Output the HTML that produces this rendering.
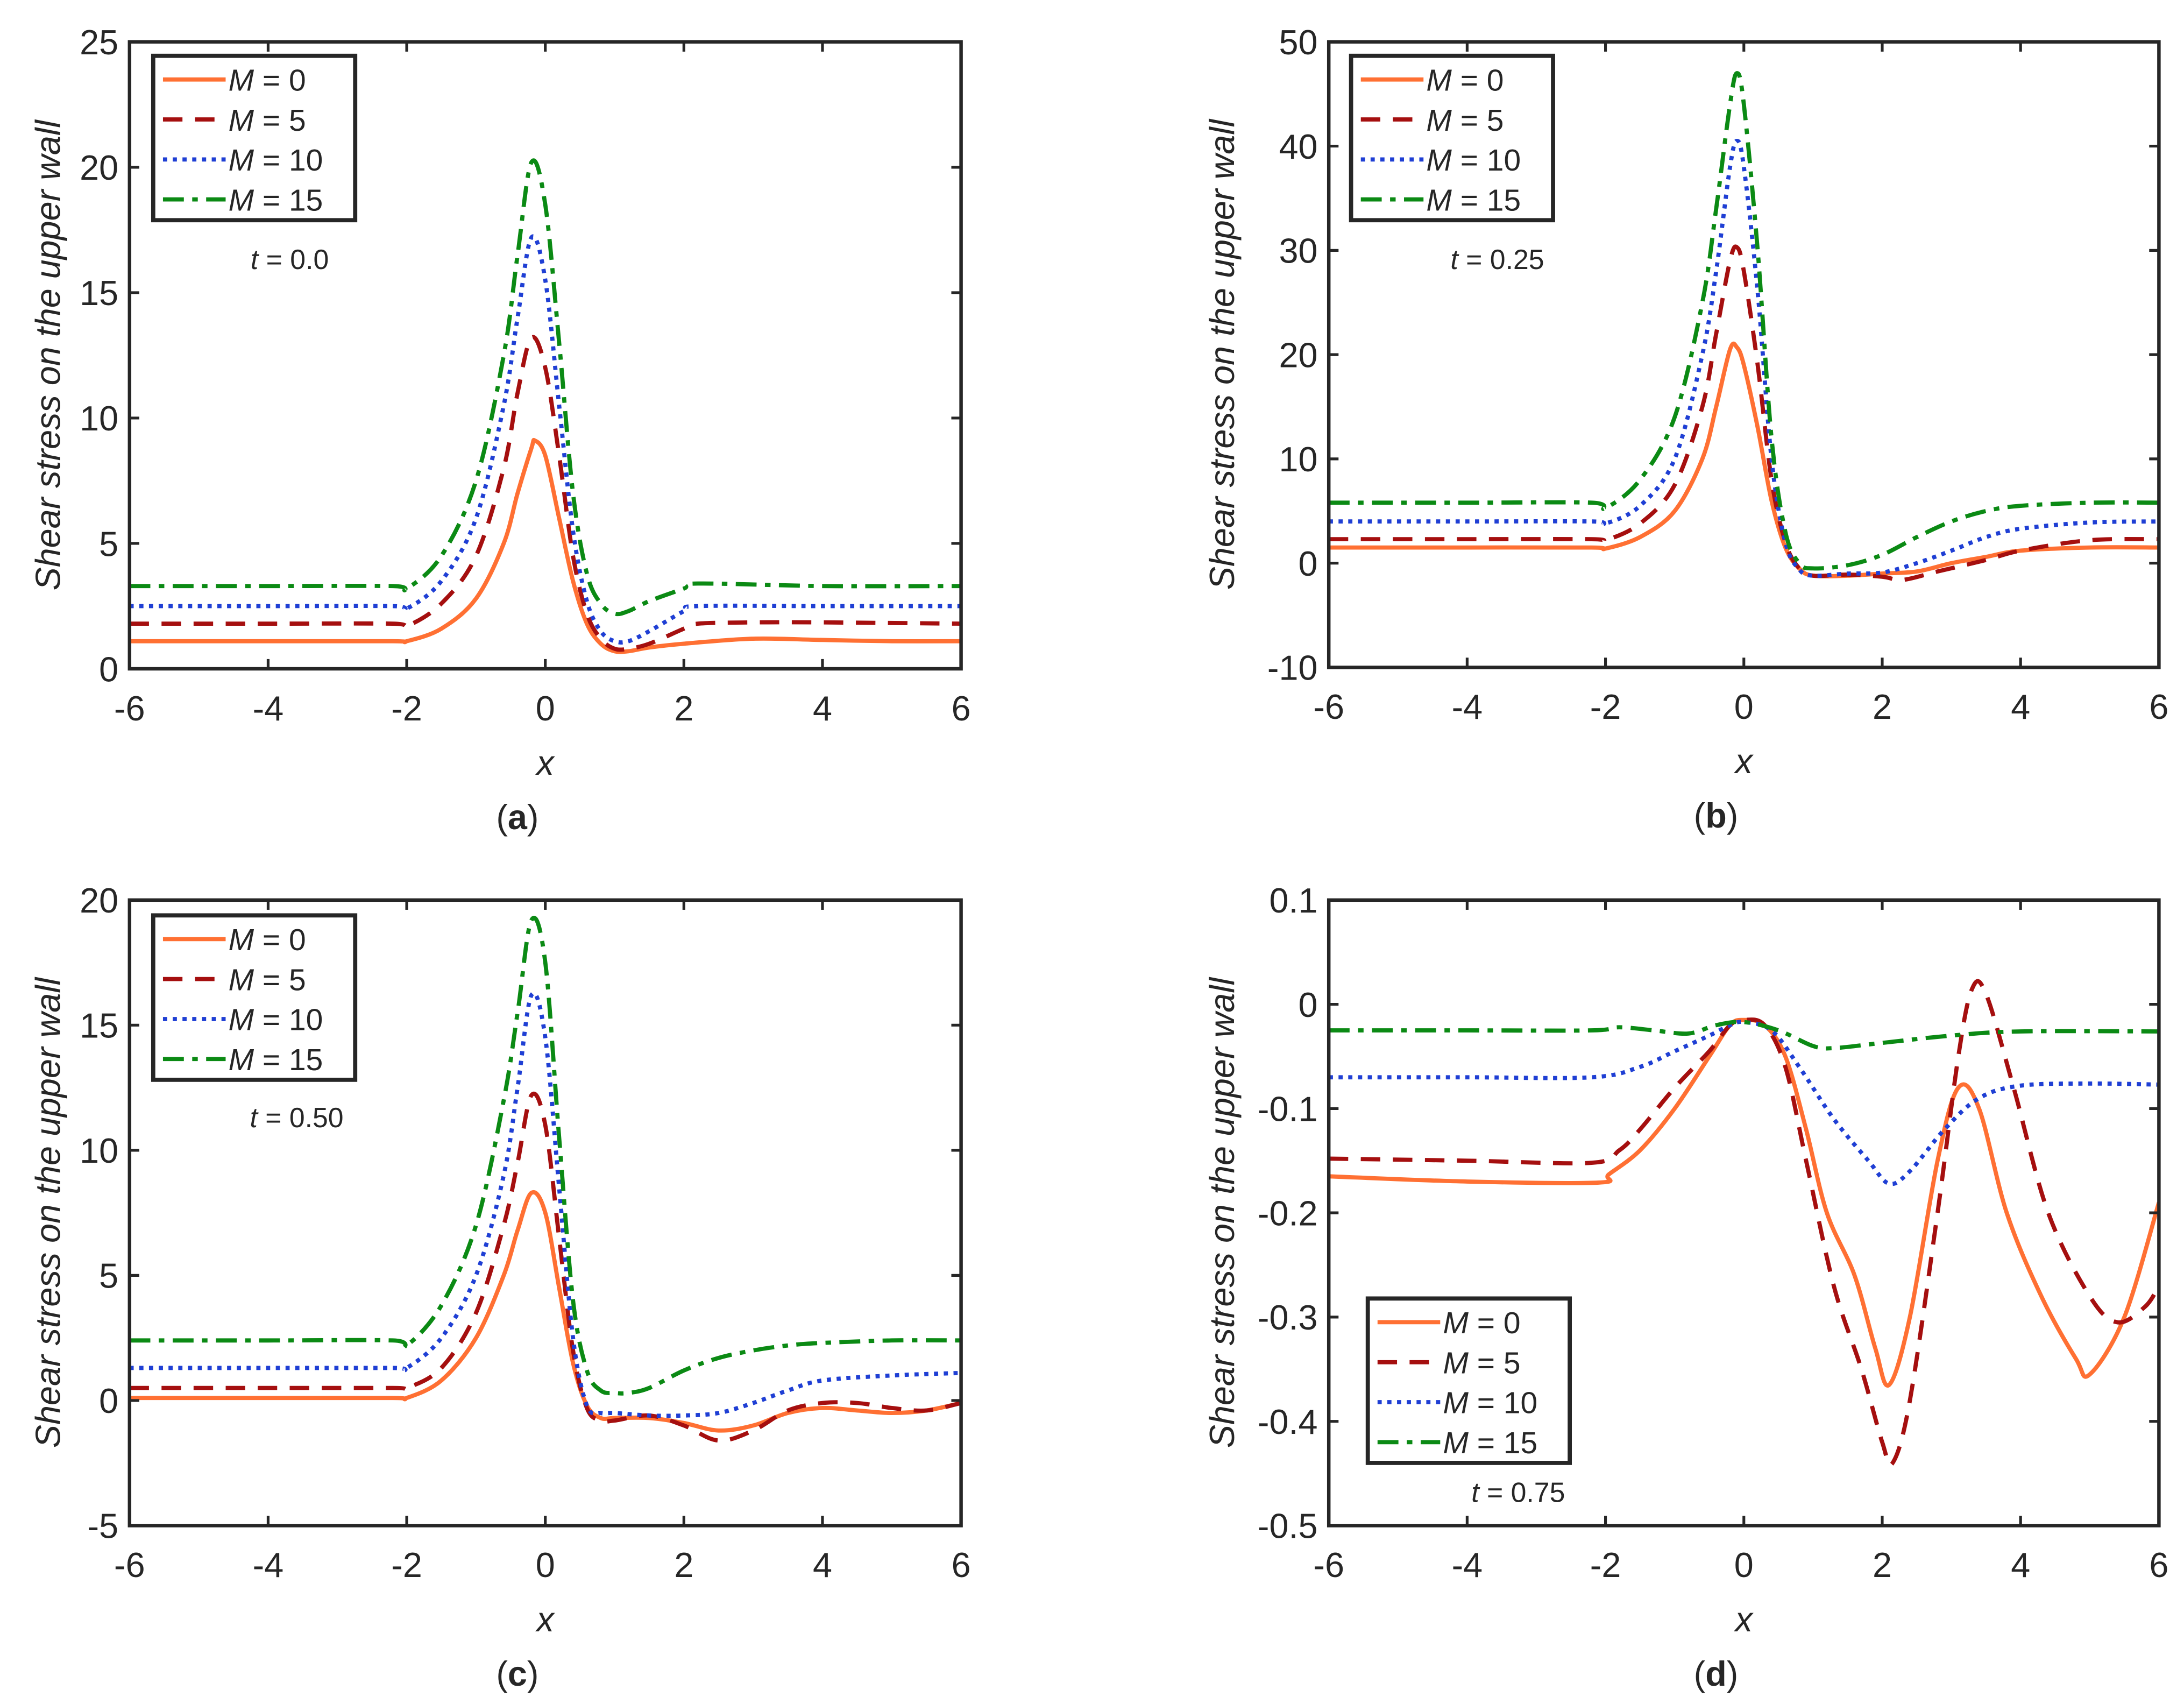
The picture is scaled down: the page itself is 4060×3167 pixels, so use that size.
<!DOCTYPE html>
<html><head><meta charset="utf-8"><style>
html,body{margin:0;padding:0;background:#fff;}
svg{display:block;}
text{font-family:"Liberation Sans",sans-serif;fill:#262626;}
</style></head><body>
<svg id="fig" width="4060" height="3167" viewBox="0 0 1568 1223" xmlns="http://www.w3.org/2000/svg"></svg>
<script>
const seriesNames = ["M = 0","M = 5","M = 10","M = 15"];
const tLabels = ["0.0","0.25","0.50","0.75"];
const captions = ["(a)","(b)","(c)","(d)"];
const xTicks = [-6,-4,-2,0,2,4,6];
const yTicksA = [0,5,10,15,20,25];
const yTicksB = [-10,0,10,20,30,40,50];
const yTicksC = [-5,0,5,10,15,20];
const yTicksD = [-0.5,-0.4,-0.3,-0.2,-0.1,0,0.1];
const yTickLabelsD = ["-0.5","-0.4","-0.3","-0.2","-0.1","0","0.1"];

// panel a
const aX0 = [-6,-4,-2.2,-2,-1.5,-1,-0.6,-0.4,-0.2,-0.15,0,0.2,0.4,0.6,0.8,1,1.2,1.5,2,3,4,5,6];
const aY0 = [1.1,1.1,1.1,1.1,1.6,2.8,5,7,8.8,9.1,8.5,6,3.5,1.8,1.0,0.7,0.7,0.85,1.0,1.2,1.15,1.1,1.1];
const aX5 = [-6,-4,-2.2,-2,-1.5,-1,-0.6,-0.4,-0.2,0,0.2,0.4,0.6,0.8,1,1.2,1.5,2,2.2,3,4,6];
const aY5 = [1.8,1.8,1.8,1.7,2.6,4.5,8,11,13.2,12,8.5,4.5,2.2,1.2,0.8,0.8,1.0,1.6,1.8,1.85,1.85,1.8];
const aX10 = [-6,-4,-2.2,-2,-1.5,-1,-0.6,-0.4,-0.2,0,0.2,0.4,0.6,0.8,1,1.2,1.5,2,2.2,4,6];
const aY10 = [2.5,2.5,2.5,2.4,3.5,6,10.5,14,17.2,15.5,10.5,5.5,2.7,1.5,1.1,1.1,1.5,2.3,2.5,2.5,2.5];
const aX15 = [-6,-4,-2.2,-2,-1.5,-1,-0.6,-0.4,-0.2,0,0.2,0.4,0.6,0.8,1,1.2,1.5,2,2.2,4,6];
const aY15 = [3.3,3.3,3.3,3.2,4.5,7.5,12.5,16.5,20.2,18.5,13,7,3.8,2.6,2.2,2.3,2.7,3.2,3.4,3.3,3.3];
// panel b
const bX0 = [-6,-4,-2.2,-2,-1.5,-1,-0.6,-0.4,-0.2,-0.1,0,0.2,0.4,0.6,0.8,1,1.5,2,2.5,3,3.5,4,5,6];
const bY0 = [1.5,1.5,1.5,1.4,2.5,5,10,15,20.5,20.7,19,13,6,1.5,-0.5,-1.2,-1.2,-1.0,-0.8,0,0.6,1.2,1.5,1.5];
const bX5 = [-6,-4,-2.2,-2,-1.5,-1,-0.6,-0.4,-0.2,-0.1,0,0.2,0.4,0.6,0.8,1,1.5,2,2.3,2.8,3.5,4,5,6];
const bY5 = [2.3,2.3,2.3,2.2,3.8,7.5,15,22,29,30.3,28,19,8,2,-0.5,-1.2,-1.1,-1.3,-1.6,-0.8,0.3,1.2,2.2,2.3];
const bX10 = [-6,-4,-2.2,-2,-1.5,-1,-0.6,-0.4,-0.2,-0.1,0,0.2,0.4,0.6,0.8,1,1.5,2,2.5,3,3.5,4,5,6];
const bY10 = [4,4,4,3.8,5.5,10,20,28,38,40.5,38,26,10,2,-0.6,-1.2,-1.0,-0.9,0,1.2,2.5,3.3,3.9,4];
const bX15 = [-6,-4,-2.2,-2,-1.5,-1,-0.6,-0.4,-0.2,-0.1,0,0.2,0.4,0.6,0.8,1,1.5,2,2.5,3,3.5,4,5,6];
const bY15 = [5.8,5.8,5.8,5.3,8,14,25,34,44,47,44,30,12,3,0,-0.5,-0.2,0.8,2.5,4,5,5.5,5.8,5.8];
// panel c
const cX0 = [-6,-4,-2.2,-2,-1.5,-1,-0.6,-0.4,-0.2,0,0.2,0.4,0.6,0.8,1,1.5,2,2.5,3,3.5,4,4.5,5,5.5,6];
const cY0 = [0.1,0.1,0.1,0.1,0.8,2.5,5,6.8,8.3,7.5,4.5,1.5,-0.2,-0.7,-0.7,-0.7,-0.9,-1.2,-1.0,-0.5,-0.3,-0.4,-0.5,-0.4,-0.1];
const cX5 = [-6,-4,-2.2,-2,-1.5,-1,-0.6,-0.4,-0.2,0,0.2,0.4,0.6,0.8,1,1.5,2,2.5,3,3.5,4,4.5,5,5.5,6];
const cY5 = [0.5,0.5,0.5,0.5,1.3,3.5,7,9.5,12.2,11,6.5,2,-0.3,-0.8,-0.8,-0.6,-1.0,-1.6,-1.2,-0.4,-0.1,-0.1,-0.3,-0.4,-0.1];
const cX10 = [-6,-4,-2.2,-2,-1.5,-1,-0.6,-0.4,-0.2,0,0.2,0.4,0.6,0.8,1,1.5,2,2.5,3,3.5,4,5,6];
const cY10 = [1.3,1.3,1.3,1.3,2.5,5,9,12.5,16.2,14.5,8.5,2.5,-0.2,-0.5,-0.5,-0.6,-0.6,-0.5,-0.1,0.4,0.8,1.0,1.1];
const cX15 = [-6,-4,-2.2,-2,-1.5,-1,-0.6,-0.4,-0.2,0,0.2,0.4,0.6,0.8,1,1.2,1.5,2,2.5,3,3.5,4,5,6];
const cY15 = [2.4,2.4,2.4,2.2,3.8,7,12,15.5,19.2,17.5,10.5,4,1.2,0.4,0.3,0.3,0.5,1.2,1.7,2.0,2.2,2.3,2.4,2.4];
// panel d
const dX0 = [-6,-4,-2.1,-1.95,-1.5,-1,-0.5,-0.2,0,0.3,0.6,0.9,1.2,1.6,1.9,2.1,2.4,2.8,3.1,3.4,3.8,4.3,4.8,5,5.5,6];
const dY0 = [-0.165,-0.17,-0.171,-0.163,-0.14,-0.1,-0.05,-0.02,-0.015,-0.02,-0.05,-0.12,-0.2,-0.26,-0.33,-0.365,-0.3,-0.15,-0.08,-0.1,-0.2,-0.28,-0.34,-0.355,-0.3,-0.19];
const dX5 = [-6,-4,-2.2,-1.8,-1.5,-1,-0.5,-0.2,0,0.3,0.6,0.9,1.3,1.7,2.0,2.15,2.4,2.8,3.1,3.3,3.5,3.9,4.4,5,5.4,5.8,6];
const dY5 = [-0.148,-0.15,-0.152,-0.14,-0.12,-0.08,-0.045,-0.02,-0.015,-0.02,-0.06,-0.15,-0.27,-0.35,-0.42,-0.44,-0.38,-0.2,-0.05,0.015,0.01,-0.08,-0.2,-0.28,-0.305,-0.29,-0.27];
const dX10 = [-6,-4,-2.2,-1.5,-1,-0.5,-0.2,0,0.4,0.8,1.3,1.8,2.1,2.4,2.9,3.4,4,5,6];
const dY10 = [-0.07,-0.07,-0.07,-0.06,-0.045,-0.03,-0.02,-0.017,-0.025,-0.06,-0.11,-0.15,-0.172,-0.16,-0.12,-0.09,-0.078,-0.076,-0.077];
const dX15 = [-6,-4,-2.2,-1.8,-1.3,-0.8,-0.4,0,0.5,1,1.3,2,3,4,6];
const dY15 = [-0.025,-0.025,-0.025,-0.022,-0.025,-0.028,-0.02,-0.017,-0.025,-0.04,-0.042,-0.037,-0.03,-0.026,-0.026];

const styles = [
  {color:"#ff7033", dash:""},
  {color:"#a50f0f", dash:"14 9"},
  {color:"#1f3fd4", dash:"3 4"},
  {color:"#0b8a14", dash:"15 6 4 6"}
];
const panels = [
  {id:"a", box:[93,30,690,480], ylim:[0,25], yt:yTicksA, ytl:null, data:[[aX0,aY0],[aX5,aY5],[aX10,aY10],[aX15,aY15]], leg:[110,40], t:[208,193], yo:50},
  {id:"b", box:[954,30,1550,479], ylim:[-10,50], yt:yTicksB, ytl:null, data:[[bX0,bY0],[bX5,bY5],[bX10,bY10],[bX15,bY15]], leg:[970,40], t:[1075,193], yo:68},
  {id:"c", box:[93,646,690,1095], ylim:[-5,20], yt:yTicksC, ytl:null, data:[[cX0,cY0],[cX5,cY5],[cX10,cY10],[cX15,cY15]], leg:[110,657], t:[213,809], yo:50},
  {id:"d", box:[954,646,1550,1095], ylim:[-0.5,0.1], yt:yTicksD, ytl:yTickLabelsD, data:[[dX0,dY0],[dX5,dY5],[dX10,dY10],[dX15,dY15]], leg:[982,932], t:[1090,1078], yo:68}
];
const NS="http://www.w3.org/2000/svg";
const svg=document.getElementById('fig');
function mk(tag,attrs,parent){const e=document.createElementNS(NS,tag);for(const k in attrs)e.setAttribute(k,attrs[k]);(parent||svg).appendChild(e);return e;}
function smooth(pts){
  let d="M"+pts[0][0].toFixed(2)+","+pts[0][1].toFixed(2);
  for(let i=0;i<pts.length-1;i++){
    const p0=pts[Math.max(0,i-1)],p1=pts[i],p2=pts[i+1],p3=pts[Math.min(pts.length-1,i+2)];
    const c1=[p1[0]+(p2[0]-p0[0])/6,p1[1]+(p2[1]-p0[1])/6];
    const c2=[p2[0]-(p3[0]-p1[0])/6,p2[1]-(p3[1]-p1[1])/6];
    d+=" C"+c1[0].toFixed(2)+","+c1[1].toFixed(2)+" "+c2[0].toFixed(2)+","+c2[1].toFixed(2)+" "+p2[0].toFixed(2)+","+p2[1].toFixed(2);
  }
  return d;
}
panels.forEach((p,pi)=>{
  const [L,T,R,B]=p.box;
  const g=mk('g',{});
  
  
  const sx=v=>L+(v+6)/12*(R-L);
  const sy=v=>B-(v-p.ylim[0])/(p.ylim[1]-p.ylim[0])*(B-T);
  const cp=mk('clipPath',{id:'clip'+p.id},g);
  mk('rect',{x:L,y:T,width:R-L,height:B-T},cp);
  p.data.forEach((s,si)=>{
    const pts=s[0].map((x,i)=>[sx(x),sy(s[1][i])]);
    const path=mk('path',{d:smooth(pts),fill:'none',stroke:styles[si].color,'stroke-width':3,'stroke-dasharray':styles[si].dash,'clip-path':'url(#clip'+p.id+')'},g);
    
    
  });
  const box=mk('rect',{x:L,y:T,width:R-L,height:B-T,fill:'none',stroke:'#262626','stroke-width':2.5},g);
  
  
  xTicks.forEach(v=>{
    const x=sx(v);
    mk('line',{x1:x,y1:B,x2:x,y2:B-7,stroke:'#262626','stroke-width':2},g);
    mk('line',{x1:x,y1:T,x2:x,y2:T+7,stroke:'#262626','stroke-width':2},g);
    const t=mk('text',{x:x,y:B+37,'text-anchor':'middle','font-size':25},g);
    t.textContent=String(v);
    
    
  });
  p.yt.forEach((v,i)=>{
    const y=sy(v);
    mk('line',{x1:L,y1:y,x2:L+7,y2:y,stroke:'#262626','stroke-width':2},g);
    mk('line',{x1:R,y1:y,x2:R-7,y2:y,stroke:'#262626','stroke-width':2},g);
    const t=mk('text',{x:L-8,y:y+9,'text-anchor':'end','font-size':25},g);
    t.textContent=p.ytl?p.ytl[i]:String(v);
    
    
  });
  const xl=mk('text',{x:(L+R)/2,y:B+76,'text-anchor':'middle','font-size':25,'font-style':'italic'},g);
  xl.textContent='x';
  
  
  const yc=(T+B)/2, yx=L-p.yo;
  const yl=mk('text',{x:yx,y:yc,'text-anchor':'middle','font-size':25,'font-style':'italic',transform:'rotate(-90 '+yx+' '+yc+')'},g);
  yl.textContent='Shear stress on the upper wall';
  
  
  const cap=mk('text',{x:(L+R)/2-20,y:B+115,'text-anchor':'middle','font-size':25,'font-family':'Liberation Serif'},g);
  cap.innerHTML='(<tspan font-weight="bold">'+p.id+'</tspan>)';
  
  
  const tl=mk('text',{x:p.t[0],y:p.t[1],'text-anchor':'middle','font-size':20},g);
  tl.innerHTML='<tspan font-style="italic">t</tspan> = '+tLabels[pi];
  
  
  const [lx,ly]=p.leg;
  const lg=mk('g',{},g);
  
  
  mk('rect',{x:lx,y:ly,width:145,height:118,fill:'#fff',stroke:'#262626','stroke-width':3},lg);
  seriesNames.forEach((n,si)=>{
    const yy=ly+17+si*28.7;
    const ln=mk('line',{x1:lx+7,y1:yy,x2:lx+52,y2:yy,stroke:styles[si].color,'stroke-width':3,'stroke-dasharray':styles[si].dash},lg);
    
    
    const tx=mk('text',{x:lx+54,y:yy+8,'font-size':22},lg);
    tx.innerHTML='<tspan font-style="italic">M</tspan> = '+n.split('= ')[1];
    
    
  });
});
</script>
</body></html>
